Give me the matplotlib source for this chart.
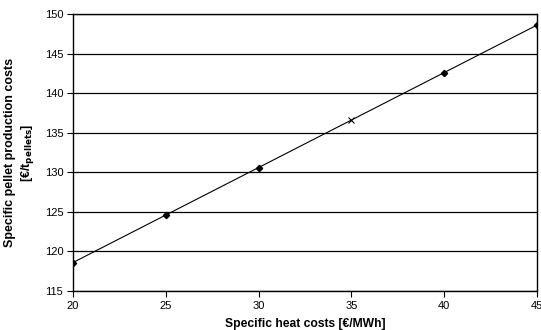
import matplotlib
matplotlib.use("Agg")
import matplotlib.pyplot as plt

heat_costs = [20, 25, 30, 35, 40, 45]
pellet_costs = [118.6, 124.6, 130.6, 136.6, 142.6, 148.6]
marker_types = ["D", "D", "D", "x", "D", "D"]
x_ticks = [20, 25, 30, 35, 40, 45]
y_ticks = [115, 120, 125, 130, 135, 140, 145, 150]

plt.rcParams['font.family'] = ['Liberation Sans', 'DejaVu Sans']

fig = plt.figure(figsize=(5.41, 3.30), dpi=100)
ax = fig.add_axes([73/541, 1 - 291/330, (537-73)/541, (291-14)/330])

ax.plot(heat_costs, pellet_costs, color="black", lw=0.8, zorder=3)
for x, y, m in zip(heat_costs, pellet_costs, marker_types):
    if m == "x":
        ax.plot(x, y, marker="x", ms=5, mew=0.8, color="black", zorder=4)
    else:
        ax.plot(x, y, marker="D", ms=3.2, color="black", zorder=4)

ax.set_xlim(20, 45)
ax.set_ylim(115, 150)
ax.set_xticks(x_ticks)
ax.set_yticks(y_ticks)
ax.grid(axis="y", color="black", lw=0.9)
ax.set_axisbelow(True)
for s in ax.spines.values():
    s.set_linewidth(1.0)
ax.tick_params(direction="out", length=4, width=0.8, labelsize=8, pad=3)

ax.set_xlabel("Specific heat costs [€/MWh]", fontsize=8.7, fontweight="bold", labelpad=5)
ax.set_ylabel("Specific pellet production costs\n[€/t$_{\\mathbf{pellets}}$]", fontsize=9,
              fontweight="bold", labelpad=6, linespacing=1.3)

fig.savefig("out.png", dpi=100)
